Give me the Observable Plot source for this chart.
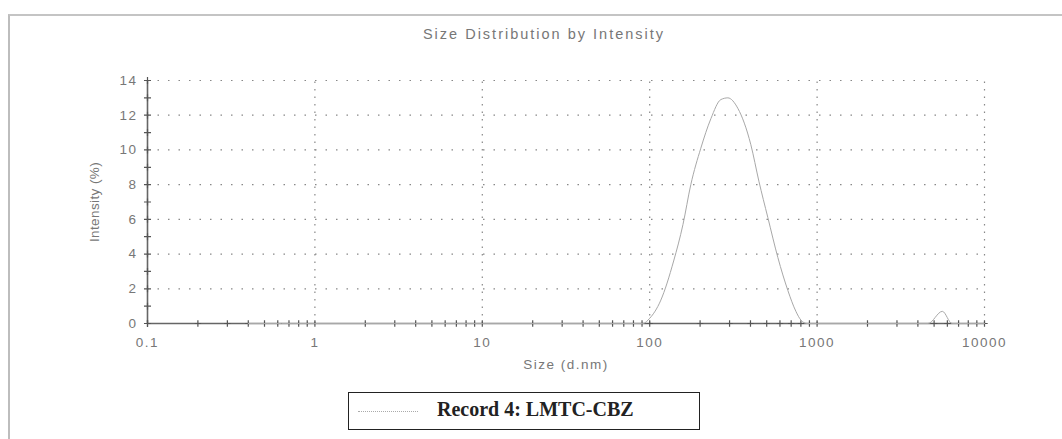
<!DOCTYPE html>
<html>
<head>
<meta charset="utf-8">
<script src="https://cdn.jsdelivr.net/npm/d3@7"></script>
<script src="https://cdn.jsdelivr.net/npm/@observablehq/plot@0.6"></script>
<style>
  html, body { margin: 0; padding: 0; background: #fff; }
  #wrap { position: relative; width: 1062px; height: 439px; overflow: hidden; background: #fff; }
  #frame { position: absolute; left: 8px; top: 14px; width: 1060px; height: 430px;
           border-top: 2px solid #c4c4c4; border-left: 2px solid #bdbdbd; }
  #title { position: absolute; left: 344px; width: 400px; top: 26px; text-align: center;
           font-family: "Liberation Sans", Arial, sans-serif; font-size: 14.5px; letter-spacing: 2px; color: #777; }
  #legend { position: absolute; left: 348px; top: 392px; width: 350px; height: 36px;
            border: 1.5px solid #222; background: #fff; }
  #legend .sample { position: absolute; left: 9px; top: 18px; width: 60px; height: 0;
                    border-top: 1px dotted #aaa; }
  #legend .txt { position: absolute; left: 88px; top: 5px; font-family: "Liberation Serif", "Times New Roman", serif;
                 font-weight: bold; font-size: 20px; color: #222; white-space: nowrap; }
  #chart { position: absolute; left: 0; top: 0; }
</style>
</head>
<body>
<div id="wrap">
  <div id="frame"></div>
  <div id="chart"></div>
  <div id="title">Size Distribution by Intensity</div>
  <div id="legend"><div class="sample"></div><div class="txt">Record 4: LMTC-CBZ</div></div>
</div>
<script>
// Size distribution (d.nm) and intensity (%)
const sizes     = [0.4, 1, 10, 50, 91, 100, 116, 139, 158, 176, 202, 232, 266, 293, 336, 402, 449, 508, 583, 669, 747, 800, 870, 1000, 4600, 5600, 6400, 10000];
const intensity = [0,   0, 0,  0,  0,  0.3, 1.3, 3.6, 5.7, 8.0, 10.1, 11.8, 12.9, 13.0, 12.4, 10.3, 8.2, 6.1, 3.8, 1.9, 0.7, 0.2, 0,  0,    0,    0.7,  0,    0];

const xMajorTicks = [0.1, 1, 10, 100, 1000, 10000];
const xTickLabels = ["0.1", "1", "10", "100", "1000", "10000"];
const yMajorTicks = [0, 2, 4, 6, 8, 10, 12, 14];
const yAllTicks   = [0, 1, 2, 3, 4, 5, 6, 7, 8, 9, 10, 11, 12, 13, 14];
const xGridLines  = [1, 10, 100, 1000, 10000];
const yGridLines  = [2, 4, 6, 8, 10, 12, 14];

const data = sizes.map((s, i) => ({size: s, intensity: intensity[i]}));

// minor log ticks (1..9 per decade)
const xMinorTicks = [];
for (let k = 0; k < 5; k++) for (let m = 1; m <= 9; m++) xMinorTicks.push(+(xMajorTicks[k] * m).toPrecision(3));
xMinorTicks.push(10000);

const chart = Plot.plot({
  width: 1062,
  height: 439,
  marginLeft: 147,
  marginRight: 78,
  marginTop: 80,
  marginBottom: 116,
  style: {fontFamily: "'Liberation Sans', Arial, sans-serif", fontSize: "13.5px", color: "#777", background: "transparent", letterSpacing: "1.5px"},
  x: {type: "log", domain: [0.1, 10000]},
  y: {domain: [0, 14]},
  marks: [
    Plot.ruleY(yGridLines, {x1: 0.1, x2: 10000, stroke: "#888", strokeWidth: 1.2, strokeDasharray: "1.5,9"}),
    Plot.ruleX(xGridLines, {y1: 0, y2: 14, stroke: "#888", strokeWidth: 1.2, strokeDasharray: "1.5,6"}),
    Plot.axisX(xMajorTicks, {tickSize: 0, tickPadding: 14, tickFormat: d => xTickLabels[xMajorTicks.indexOf(d)], label: "Size (d.nm)", labelAnchor: "center", labelArrow: "none", labelOffset: 45, fill: "#777"}),
    Plot.axisY(yMajorTicks, {tickSize: 0, tickPadding: 10, label: "Intensity (%)", labelAnchor: "center", labelArrow: "none", labelOffset: 58, fill: "#777"}),
    Plot.ruleY([0], {x1: 0.1, x2: 10000, stroke: "#666", strokeWidth: 1.6}),
    Plot.ruleX([0.1], {y1: 0, y2: 14, stroke: "#666", strokeWidth: 1.6}),
    Plot.dot(xMinorTicks, {x: d => d, y: 0, symbol: "plus", r: 2.2, stroke: "#555", strokeWidth: 1.2}),
    Plot.dot(yAllTicks, {x: 0.1, y: d => d, symbol: "plus", r: 2.4, stroke: "#555", strokeWidth: 1.2}),
    Plot.line(data, {x: "size", y: "intensity", stroke: "#a8a8a8", strokeWidth: 1, curve: "monotone-x"})
  ]
});
// vertical label is narrower in the reference
chart.querySelectorAll('[aria-label="y-axis label"] text').forEach(t => t.style.letterSpacing = "0.4px");
document.getElementById("chart").appendChild(chart);
</script>
</body>
</html>
